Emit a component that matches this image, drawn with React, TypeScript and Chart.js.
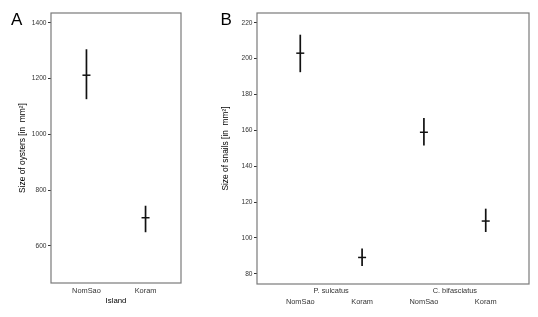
import React, { useEffect, useRef } from "react";
import { Chart, registerables } from "chart.js";
Chart.register(...registerables);

// Panel A: oysters by island
const islandsA = ["NomSao", "Koram"];
const oysterMean = [1212, 701];
const oysterLow = [1126, 649];
const oysterHigh = [1305, 744];
const oysterTicks = [600, 800, 1000, 1200, 1400];

// Panel B: snails by species and island
const species = ["P. sulcatus", "C. bifasciatus"];
const islandsB = ["NomSao", "Koram"];
// order: [P. sulcatus NomSao, P. sulcatus Koram, C. bifasciatus NomSao, C. bifasciatus Koram]
const snailMean = [203, 89.1, 158.9, 109.4];
const snailLow = [192.4, 84.3, 151.5, 103.3];
const snailHigh = [213.3, 94.1, 166.9, 116.3];
const snailTicks = [80, 100, 120, 140, 160, 180, 200, 220];

const FONT = "'Liberation Sans', Arial, Helvetica, sans-serif";
const INK = "#111111";
const TICK_COLOR = "#333333";
const DODGE = 0.25;

const framePlugin = {
  id: "frame",
  afterDatasetsDraw(chart: any) {
    const { ctx, chartArea } = chart;
    const { left, top, right, bottom } = chartArea;
    ctx.save();
    ctx.strokeStyle = "#7a7a7a";
    ctx.lineWidth = 1.2;
    ctx.strokeRect(left, top, right - left, bottom - top);
    ctx.restore();
  },
};

function errorDatasets(xs: number[], lo: number[], hi: number[], mean: number[]) {
  const bars = xs.map((x, i) => ({
    type: "scatter" as const,
    data: [
      { x, y: lo[i] },
      { x, y: hi[i] },
    ],
    showLine: true,
    borderColor: INK,
    borderWidth: 1.7,
    pointRadius: 0,
  }));
  const means = {
    type: "scatter" as const,
    data: xs.map((x, i) => ({ x, y: mean[i] })),
    pointStyle: "line",
    pointRadius: 4,
    borderColor: INK,
    backgroundColor: INK,
    pointBorderWidth: 1.5,
    borderWidth: 1.5,
  };
  return [...bars, means];
}

function yAxis(ticks: number[], min: number, max: number, title: string, width: number, titlePad: number) {
  return {
    type: "linear",
    min,
    max,
    afterBuildTicks: (s: any) => {
      s.ticks = ticks.map((v) => ({ value: v }));
    },
    afterFit: (s: any) => {
      s.width = width;
    },
    ticks: {
      callback: (v: any) => String(v),
      font: { family: FONT, size: 6.6 },
      color: TICK_COLOR,
      padding: 1.5,
    },
    grid: { display: true, drawOnChartArea: false, drawTicks: true, tickLength: 3, color: "#333333" },
    border: { display: false },
    title: {
      display: true,
      text: title,
      font: { family: FONT, size: 8.4 },
      color: "#000",
      padding: { top: titlePad, bottom: 0 },
    },
  };
}

function ChartA() {
  const ref = useRef<HTMLCanvasElement | null>(null);
  useEffect(() => {
    if (!ref.current) return;
    const xs = islandsA.map((_, i) => i + 1);
    const chart = new Chart(ref.current, {
      type: "scatter",
      data: { datasets: errorDatasets(xs, oysterLow, oysterHigh, oysterMean) as any },
      options: {
        animation: false,
        responsive: true,
        maintainAspectRatio: false,
        layout: { padding: { left: 0, right: 19, top: 13, bottom: 0 } },
        plugins: { legend: { display: false }, tooltip: { enabled: false } },
        scales: {
          x: {
            type: "linear",
            min: 0.4,
            max: 2.6,
            afterBuildTicks: (s: any) => {
              s.ticks = islandsA.map((_, i) => ({ value: i + 1 }));
            },
            afterFit: (s: any) => {
              s.height = 34;
            },
            ticks: {
              callback: (_v: any, i: number) => islandsA[i],
              font: { family: FONT, size: 7.4 },
              color: TICK_COLOR,
              padding: 4,
              autoSkip: false,
              maxRotation: 0,
            },
            grid: { display: false, drawTicks: false },
            border: { display: false },
            title: {
              display: true,
              text: "Island",
              font: { family: FONT, size: 7.8 },
              color: "#000",
              padding: { top: 0, bottom: 11.5 },
            },
          } as any,
          y: yAxis(oysterTicks, 467, 1435, "Size of oysters [in  mm²]", 51, 18) as any,
        },
      },
      plugins: [framePlugin],
    });
    return () => chart.destroy();
  }, []);
  return <canvas ref={ref} />;
}

function ChartB() {
  const ref = useRef<HTMLCanvasElement | null>(null);
  useEffect(() => {
    if (!ref.current) return;
    const xs: number[] = [];
    const islandTicks: { value: number; label: string }[] = [];
    species.forEach((_, si) => {
      islandsB.forEach((isl, ii) => {
        const x = si + 1 + (ii - 0.5) * 2 * DODGE;
        xs.push(x);
        islandTicks.push({ value: x, label: isl });
      });
    });
    const chart = new Chart(ref.current, {
      type: "scatter",
      data: { datasets: errorDatasets(xs, snailLow, snailHigh, snailMean) as any },
      options: {
        animation: false,
        responsive: true,
        maintainAspectRatio: false,
        layout: { padding: { left: 0, right: 9, top: 13, bottom: 0 } },
        plugins: { legend: { display: false }, tooltip: { enabled: false } },
        scales: {
          x: {
            type: "linear",
            position: "bottom",
            weight: 0,
            min: 0.4,
            max: 2.6,
            afterBuildTicks: (s: any) => {
              s.ticks = species.map((_, i) => ({ value: i + 1 }));
            },
            afterFit: (s: any) => {
              s.height = 12;
            },
            ticks: {
              callback: (_v: any, i: number) => species[i],
              font: { family: FONT, size: 7.4 },
              color: TICK_COLOR,
              padding: 3,
              autoSkip: false,
              maxRotation: 0,
            },
            grid: { display: false, drawTicks: false },
            border: { display: false },
          } as any,
          x2: {
            type: "linear",
            position: "bottom",
            weight: 1,
            min: 0.4,
            max: 2.6,
            afterBuildTicks: (s: any) => {
              s.ticks = islandTicks.map((t) => ({ value: t.value }));
            },
            afterFit: (s: any) => {
              s.height = 21;
            },
            ticks: {
              callback: (_v: any, i: number) => (islandTicks[i] ? islandTicks[i].label : ""),
              font: { family: FONT, size: 7.4 },
              color: TICK_COLOR,
              padding: 2,
              autoSkip: false,
              maxRotation: 0,
            },
            grid: { display: false, drawTicks: false },
            border: { display: false },
          } as any,
          y: yAxis(snailTicks, 74.3, 225.4, "Size of snails [in  mm²]", 57, 21) as any,
        },
      },
      plugins: [framePlugin],
    });
    return () => chart.destroy();
  }, []);
  return <canvas ref={ref} />;
}

const letterStyle: React.CSSProperties = {
  position: "absolute",
  fontFamily: FONT,
  fontSize: 17,
  lineHeight: "17px",
  color: "#000",
};

export default function App() {
  return (
    <div style={{ position: "absolute", left: 0, top: 0, width: 538, height: 317, background: "#fff" }}>
      <div style={{ position: "absolute", left: 0, top: 0, width: 200, height: 317 }}>
        <ChartA />
      </div>
      <div style={{ position: "absolute", left: 200, top: 0, width: 338, height: 317 }}>
        <ChartB />
      </div>
      <div style={{ ...letterStyle, left: 11, top: 10.5 }}>A</div>
      <div style={{ ...letterStyle, left: 220.5, top: 10.5 }}>B</div>
    </div>
  );
}
